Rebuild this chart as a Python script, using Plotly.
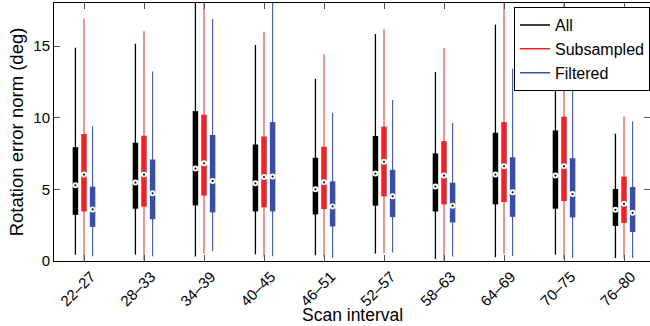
import plotly.graph_objects as go

categories = ["22–27", "28–33", "34–39", "40–45", "46–51", "52–57", "58–63", "64–69", "70–75", "76–80"]
series_names = ["All", "Subsampled", "Filtered"]

# whisker low, q1, median, q3, whisker high (deg)
all_low = [0.44, 0.44, 0.31, 0.47, 0.40, 0.52, 0.14, 0.26, 0.44, 0.21]
all_q1 = [3.22, 3.65, 3.88, 3.46, 3.25, 3.86, 3.46, 3.95, 3.65, 2.45]
all_med = [5.28, 5.47, 6.45, 5.42, 5.00, 6.10, 5.19, 6.03, 5.96, 3.57]
all_q3 = [7.94, 8.25, 10.46, 8.13, 7.20, 8.72, 7.50, 8.95, 9.11, 5.02]
all_high = [14.88, 15.16, 19.0, 15.07, 12.71, 15.84, 13.18, 16.50, 15.5, 8.88]

sub_low = [0.05, 0.05, 0.50, 0.30, 0.30, 0.56, 0.02, 0.50, 0.10, 0.20]
sub_q1 = [3.46, 3.79, 4.56, 3.74, 3.62, 4.51, 3.95, 4.11, 4.18, 2.66]
sub_med = [6.03, 6.03, 6.82, 5.86, 5.49, 6.92, 5.96, 6.61, 6.61, 3.99]
sub_q3 = [8.86, 8.74, 10.21, 8.69, 7.97, 9.37, 8.36, 9.69, 10.07, 5.89]
sub_high = [16.92, 16.03, 19.0, 16.00, 14.42, 16.17, 14.86, 19.0, 19.0, 10.09]

fil_low = [0.33, 0.33, 0.70, 0.33, 0.21, 0.59, 0.31, 0.35, 0.21, 0.21]
fil_q1 = [2.38, 2.92, 3.39, 3.46, 2.41, 3.06, 2.69, 3.08, 3.04, 2.03]
fil_med = [3.60, 4.72, 5.59, 5.89, 3.81, 4.51, 3.86, 4.79, 4.67, 3.36]
fil_q3 = [5.19, 7.08, 8.79, 9.69, 5.56, 6.36, 5.46, 7.24, 7.17, 5.16]
fil_high = [9.39, 13.22, 16.87, 19.0, 10.33, 11.24, 9.63, 13.41, 14.5, 9.74]

y_ticks = [0, 5, 10, 15]

series = [
    ("All", all_low, all_q1, all_med, all_q3, all_high, -0.143, "#000000", "#000000", 1.3),
    ("Subsampled", sub_low, sub_q1, sub_med, sub_q3, sub_high, 0.0, "#ec2427", "#f27777", 1.6),
    ("Filtered", fil_low, fil_q1, fil_med, fil_q3, fil_high, 0.143, "#3a4fa3", "#4b5fb2", 1.2),
]

fig = go.Figure()
for name, low, q1, med, q3, high, off, col, wcol, ww in series:
    xs = [i + 1 + off for i in range(len(categories))]
    wx, wy, bx, by = [], [], [], []
    for x, lo, a, b, hi in zip(xs, low, q1, q3, high):
        wx += [x, x, None]
        wy += [lo, hi, None]
        bx += [x, x, None]
        by += [a, b, None]
    fig.add_trace(go.Scatter(x=wx, y=wy, mode="lines", line=dict(color=wcol, width=ww),
                             showlegend=False, hoverinfo="skip"))
    fig.add_trace(go.Scatter(x=bx, y=by, mode="lines", line=dict(color=col, width=5.5),
                             showlegend=False, hoverinfo="skip"))
    fig.add_trace(go.Scatter(x=xs, y=med, mode="markers",
                             marker=dict(symbol="circle", size=6, color="white", line=dict(width=0)),
                             showlegend=False, hoverinfo="skip"))
    fig.add_trace(go.Scatter(x=xs, y=med, mode="markers",
                             marker=dict(symbol="circle", size=2.2, color="#111111", line=dict(width=0)),
                             showlegend=False, hoverinfo="skip"))
    # legend entry
    fig.add_trace(go.Scatter(x=[None], y=[None], mode="lines", line=dict(color=col, width=1.5),
                             name=name, showlegend=True))

font = "Liberation Sans, Arial, sans-serif"
fig.update_layout(
    width=650, height=326,
    margin=dict(l=54, r=0, t=3, b=65),
    paper_bgcolor="white", plot_bgcolor="white",
    font=dict(family=font, size=15, color="black"),
    showlegend=True,
    legend=dict(x=1, xanchor="right", y=0.984, yanchor="top",
                bordercolor="black", borderwidth=1, bgcolor="white",
                font=dict(size=16, family=font), tracegroupgap=0, traceorder="normal",
                itemwidth=30),
    xaxis=dict(range=[0.5, 10.433], tickvals=list(range(1, len(categories) + 1)), ticktext=categories,
               tickangle=-45, ticks="inside", ticklen=6, tickcolor="#555555",
               ticklabelshift=7, ticklabelstandoff=0,
               showline=True, linecolor="black", linewidth=1, mirror="ticks",
               showgrid=False, zeroline=False, tickfont=dict(size=15)),
    yaxis=dict(range=[0, 18], tickvals=y_ticks, ticks="inside", ticklen=6, tickcolor="#555555",
               showline=True, linecolor="black", linewidth=1, mirror="ticks",
               showgrid=False, zeroline=False, tickfont=dict(size=15),
               title=dict(text="Rotation error norm (deg)", font=dict(size=18.5), standoff=4)),
    annotations=[dict(text="Scan interval", xref="paper", yref="paper", x=0.5, y=-0.208,
                      xanchor="center", yanchor="middle", showarrow=False,
                      font=dict(size=17.5, family=font))],
)

fig.write_html("out.html", config={"displayModeBar": False},
               post_script="document.body.style.margin='0';document.body.style.padding='0';")
